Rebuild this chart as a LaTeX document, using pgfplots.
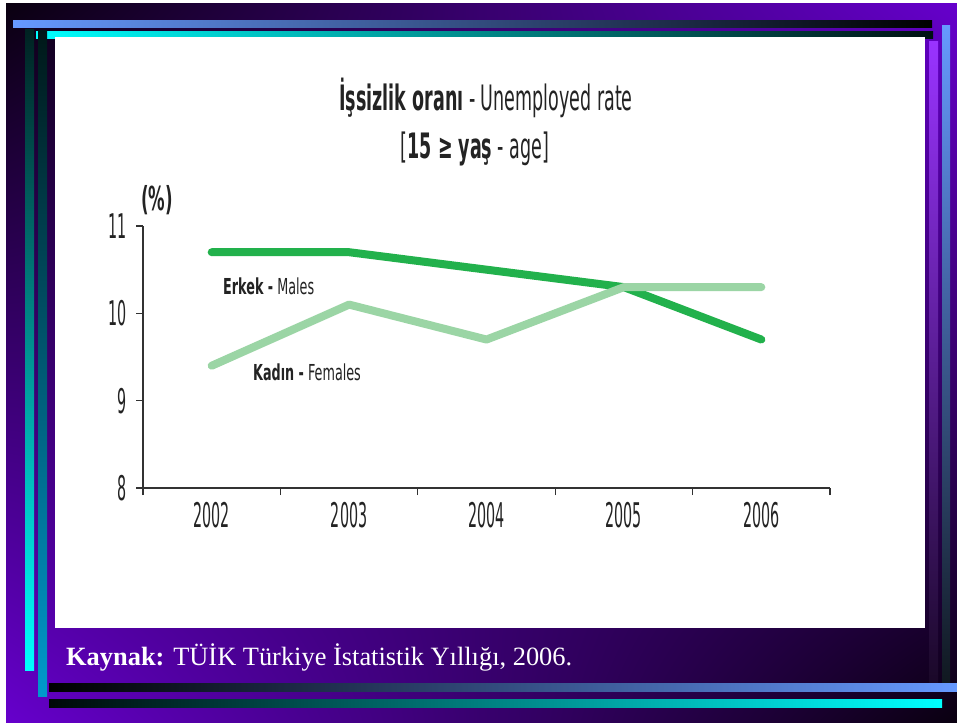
\documentclass[border=0pt]{standalone}
\usepackage{fontspec}
\setmainfont{Liberation Serif}
\newfontfamily\fT{DejaVu Sans}[FakeStretch=0.5]
\newfontfamily\fK{DejaVu Sans}[FakeStretch=0.42]
\newfontfamily\fL{DejaVu Sans}[FakeStretch=0.58]
\usepackage{pgfplots}
\pgfplotsset{compat=1.18}
\usetikzlibrary{shadings}
\definecolor{bgdark}{RGB}{10,0,16}
\definecolor{bgpurple}{RGB}{102,0,204}
\definecolor{lblue}{RGB}{102,153,255}
\definecolor{cyanb}{RGB}{0,255,255}
\definecolor{vpurple}{RGB}{153,51,255}
\definecolor{malec}{RGB}{34,177,76}
\definecolor{femc}{RGB}{155,213,165}
\definecolor{axgray}{RGB}{50,50,50}
\definecolor{txt}{RGB}{35,35,35}
\begin{document}
\begin{tikzpicture}[x=1pt,y=1pt]
\fill[white] (0,0) rectangle (957,-722);
\shade[upper left=bgdark, upper right=bgpurple, lower left=bgpurple, lower right=bgdark] (6,-4) rectangle (957,-722);
% top bars
\shade[left color=lblue, right color=black] (13,-21) rectangle (932,-28);
\shade[left color=cyanb, right color={rgb,255:red,0;green,16;blue,16}] (36,-32) rectangle (933,-39);
% left bars
\shade[top color={rgb,255:red,0;green,34;blue,34}, bottom color=cyanb] (25,-30) rectangle (34,-670);
\shade[top color={rgb,255:red,0;green,24;blue,24}, bottom color={rgb,255:red,0;green,153;blue,204}] (38,-31) rectangle (47,-696);
% right bars
\shade[top color=vpurple, bottom color={rgb,255:red,26;green,8;blue,40}] (929,-42) rectangle (938,-682);
\shade[top color=lblue, bottom color={rgb,255:red,16;green,24;blue,32}] (942,-26) rectangle (950,-682);
% bottom bars
\shade[left color=black, right color=lblue] (49,-683) rectangle (957,-691);
\shade[left color={rgb,255:red,0;green,8;blue,8}, right color=cyanb] (49,-699) rectangle (942,-707);
% white panel
\fill[white] (55,-37) rectangle (925,-628);

\begin{axis}[
  at={(143pt,-488pt)}, anchor=south west,
  scale only axis, width=687pt, height=262pt,
  xmin=-0.5, xmax=4.5, ymin=8, ymax=11,
  axis x line*=bottom, axis y line*=left,
  axis line style={-, draw=axgray, line width=1.5pt},
  tick align=outside, major tick length=7pt,
  tick style={draw=axgray, line width=1.2pt},
  xtick={-0.5,0.5,1.5,2.5,3.5,4.5}, xticklabels={},
  extra x ticks={0,1,2,3,4},
  extra x tick labels={2002,2003,2004,2005,2006},
  extra x tick style={major tick length=0pt},
  ytick={8,9,10,11}, yticklabels={8,9,10,11},
  ticklabel style={font=\fK\fontsize{34}{38}\selectfont, text=txt},
  yticklabel style={anchor=east, inner sep=0pt, xshift=-9pt},
  xticklabel style={anchor=north, inner sep=0pt, yshift=-14pt},
  clip=false,
]
\addplot[malec, line width=8pt, line cap=round, line join=round] coordinates {(0,10.7)(1,10.7)(2,10.5)(3,10.3)(4,9.7)};
\addplot[femc, line width=8pt, line cap=round, line join=round] coordinates {(0,9.4)(1,10.1)(2,9.7)(3,10.3)(4,10.3)};
\end{axis}

\node[anchor=base, text=txt, inner sep=0pt] at (486,-111) {\fT\fontsize{35}{40}\selectfont\textbf{İşsizlik oranı} - Unemployed rate};
\node[anchor=base, text=txt, inner sep=0pt] at (475,-158) {\fT\fontsize{35}{40}\selectfont [\textbf{15 ≥ yaş} - age]};
\node[anchor=center, text=txt, inner sep=0pt] at (157,-200) {\fT\fontsize{33}{36}\selectfont\textbf{(\%)}};
\node[anchor=base west, text=txt, inner sep=0pt] at (223,-294) {\fL\fontsize{22}{26}\selectfont\textbf{Erkek -} Males};
\node[anchor=base west, text=txt, inner sep=0pt] at (253,-380) {\fL\fontsize{22}{26}\selectfont\textbf{Kadın -} Females};
\node[anchor=base west, text=white, inner sep=0pt] at (66,-665) {\fontsize{26.4}{30}\selectfont\textbf{Kaynak:} TÜİK Türkiye İstatistik Yıllığı, 2006.};
\end{tikzpicture}
\end{document}
